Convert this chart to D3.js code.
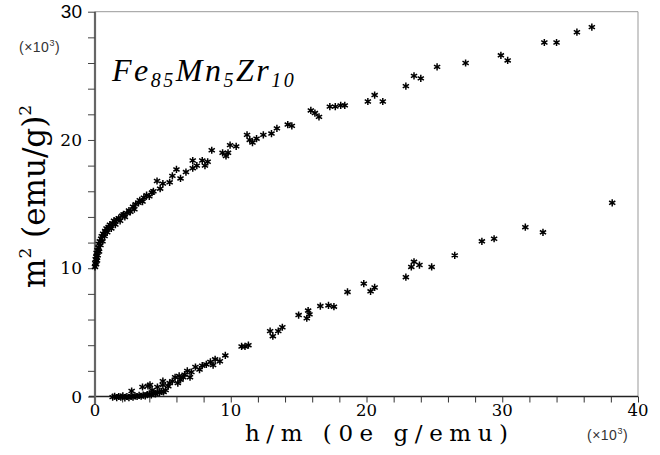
<!DOCTYPE html>
<html>
<head>
<meta charset="utf-8">
<script src="https://cdn.jsdelivr.net/npm/d3@7"></script>
<style>
  body { margin: 0; background: #fff; }
  svg { display: block; }
</style>
</head>
<body>
<div id="chart"></div>
<script>
// upper branch: [h/m (x10^3), m^2 (x10^3)]
const upperBranch = [
  [0.0, 10.1], [0.02, 10.4], [0.05, 10.7], [0.08, 10.3], [0.1, 10.9], [0.12, 11.2],
  [0.15, 10.6], [0.18, 11.4], [0.2, 11.0], [0.25, 11.6], [0.28, 11.9], [0.3, 11.3],
  [0.35, 12.1], [0.4, 11.8], [0.45, 12.3], [0.5, 12.5], [0.55, 12.1], [0.6, 12.7],
  [0.7, 12.5], [0.75, 12.9], [0.85, 13.1], [0.9, 12.8], [1.0, 13.2], [1.1, 13.4],
  [1.2, 13.1], [1.3, 13.5], [1.4, 13.7], [1.5, 13.4], [1.6, 13.8], [1.75, 13.9],
  [1.85, 13.7], [2.0, 14.1], [2.1, 14.2], [2.2, 14.0], [2.35, 14.3], [2.5, 14.5],
  [2.6, 14.4], [2.8, 14.8], [2.9, 14.6], [3.0, 15.0], [3.2, 15.1], [3.3, 15.3],
  [3.5, 15.2], [3.6, 15.5], [3.8, 15.7], [4.0, 15.6], [4.2, 15.9], [4.3, 16.0],
  [4.57, 16.8], [4.8, 16.2], [5.0, 16.6], [5.5, 16.7], [5.7, 17.2], [6.0, 17.7],
  [6.3, 17.0], [6.7, 17.5], [7.2, 17.8], [7.2, 18.4], [7.5, 18.0], [7.9, 18.4],
  [8.1, 18.0], [8.3, 18.3], [8.6, 19.2], [9.4, 19.0], [9.65, 18.75], [9.8, 19.0],
  [9.95, 19.6], [10.4, 19.5], [11.2, 20.4], [11.4, 20.0], [11.6, 19.8], [11.9, 20.1],
  [12.4, 20.4], [13.0, 20.5], [13.4, 20.9], [14.2, 21.2], [14.5, 21.1],
  [15.9, 22.3], [16.2, 22.1], [16.5, 21.8], [17.3, 22.6], [17.7, 22.6], [18.1, 22.7],
  [18.4, 22.7], [20.1, 23.0], [20.6, 23.5], [21.2, 23.0], [22.9, 24.2], [23.5, 25.0],
  [24.0, 24.8], [25.2, 25.7], [27.3, 26.0], [29.9, 26.6], [30.4, 26.2], [33.1, 27.6],
  [34.0, 27.6], [35.5, 28.4], [36.6, 28.8]
];

// lower branch
const lowerBranch = [
  [1.3, -0.05], [1.45, 0.02], [1.6, -0.08], [1.75, 0.0], [1.9, -0.05], [2.05, 0.05],
  [2.2, -0.1], [2.35, 0.0], [2.5, -0.08], [2.65, 0.03], [2.8, -0.05], [2.95, 0.05],
  [3.1, 0.0], [3.25, 0.08], [3.4, 0.02], [3.55, 0.1], [3.7, 0.05], [3.85, 0.15],
  [4.0, 0.2], [4.15, 0.12], [4.3, 0.25], [4.45, 0.2], [4.6, 0.35], [4.75, 0.3],
  [4.9, 0.4], [5.05, 0.35], [5.2, 0.5],
  [2.7, 0.43], [3.5, 0.74], [3.9, 0.82], [4.05, 0.9], [4.2, 0.5], [4.6, 0.74],
  [5.0, 1.2], [5.0, 0.9], [5.4, 0.8], [5.5, 1.05], [5.7, 1.2], [5.9, 1.5], [6.1, 1.05],
  [6.2, 1.6], [6.3, 1.3], [6.5, 1.5], [6.6, 1.7], [6.8, 2.0], [7.0, 1.5], [7.1, 1.9],
  [7.4, 2.3], [7.7, 2.1], [7.9, 2.4], [8.2, 2.5], [8.5, 2.7], [8.7, 2.45], [8.85, 2.9],
  [9.2, 2.75], [9.6, 3.2], [10.8, 3.9], [11.05, 3.9], [11.3, 4.0],
  [12.9, 5.1], [13.1, 4.7], [13.5, 5.1], [13.8, 5.4], [15.0, 6.35], [15.6, 6.1],
  [15.7, 6.7], [15.8, 6.4], [16.6, 7.05], [17.2, 7.1], [17.6, 7.0], [18.6, 8.15],
  [19.8, 8.8], [20.3, 8.2], [20.6, 8.5], [22.9, 9.3], [23.3, 10.1], [23.5, 10.5],
  [23.9, 10.25], [24.8, 10.1], [26.5, 11.0], [28.5, 12.1], [29.4, 12.3], [31.7, 13.2],
  [33.0, 12.8], [38.1, 15.1]
];

const xTickLabels = [0, 10, 20, 30, 40];
const yTickLabels = [0, 10, 20, 30];
const xMinorTicks = d3.range(0, 41, 2);
const yMinorTicks = d3.range(0, 31, 2);

const width = 660;
const height = 455;
const serif = '"DejaVu Serif", "Liberation Serif", serif';
const sans = '"Liberation Sans", Arial, sans-serif';

const svg = d3.select('#chart')
  .append('svg')
  .attr('width', width)
  .attr('height', height);

const xScale = d3.scaleLinear().domain([0, 40]).range([95, 638]);
const yScale = d3.scaleLinear().domain([0, 30]).range([396.5, 11.7]);

// frame (top and right are light)
svg.append('line')
  .attr('x1', xScale(0)).attr('x2', xScale(40))
  .attr('y1', yScale(30)).attr('y2', yScale(30))
  .style('stroke', '#999').style('stroke-width', 1);
svg.append('line')
  .attr('x1', xScale(40)).attr('x2', xScale(40))
  .attr('y1', yScale(30)).attr('y2', yScale(0))
  .style('stroke', '#999').style('stroke-width', 1);

// x axis
const xAxis = svg.append('g')
  .attr('class', 'axis x')
  .attr('transform', `translate(0,${yScale(0)})`)
  .call(d3.axisBottom(xScale).tickValues(xMinorTicks).tickSize(6).tickFormat(''));
xAxis.select('.domain').attr('d', `M${xScale(0) - 6},0H${xScale(40)}`)
  .style('stroke', '#222').style('stroke-width', 1.3);
xAxis.selectAll('.tick line').style('stroke', '#333');

// y axis
const yAxis = svg.append('g')
  .attr('class', 'axis y')
  .attr('transform', `translate(${xScale(0)},0)`)
  .call(d3.axisLeft(yScale).tickValues(yMinorTicks).tickSize(7).tickFormat(''));
yAxis.select('.domain').attr('d', `M0,${yScale(30)}V${yScale(0) + 8}`)
  .style('stroke', '#666').style('stroke-width', 2.2);
yAxis.selectAll('.tick line').style('stroke', '#444');

// tick labels
svg.append('g').selectAll('text')
  .data(xTickLabels)
  .join('text')
  .attr('x', d => xScale(d))
  .attr('y', 415.5)
  .attr('text-anchor', 'middle')
  .style('font-family', serif)
  .style('font-size', '16.5px')
  .text(d => d);

svg.append('g').selectAll('text')
  .data(yTickLabels)
  .join('text')
  .attr('x', 82)
  .attr('y', d => yScale(d) + 6)
  .attr('text-anchor', 'end')
  .style('font-family', d => d === 30 ? sans : serif)
  .style('font-size', d => d === 30 ? '19px' : '17px')
  .text(d => d);

// multipliers
const mult = (x, y) => {
  const t = svg.append('text')
    .attr('x', x).attr('y', y)
    .style('font-family', sans)
    .style('font-size', '14px')
    .style('letter-spacing', '0.5px')
    .style('fill', '#333');
  t.append('tspan').text('(×10');
  t.append('tspan').attr('dy', -6).style('font-size', '9px').text('3');
  t.append('tspan').attr('dy', 6).text(')');
};
mult(19, 52);
mult(587, 440);

// axis titles
svg.append('text')
  .attr('x', 245)
  .attr('y', 441)
  .attr('textLength', 263)
  .attr('lengthAdjust', 'spacing')
  .style('font-family', serif)
  .style('font-size', '23px')
  .text('h/m (0e g/emu)');

const yTitle = svg.append('text')
  .attr('transform', 'translate(45,288) rotate(-90)')
  .style('font-family', serif)
  .style('font-size', '31px');
yTitle.append('tspan').text('m');
yTitle.append('tspan').attr('dy', -14).style('font-size', '17px').text('2');
yTitle.append('tspan').attr('dy', 14).text(' (emu/g)');
yTitle.append('tspan').attr('dy', -14).style('font-size', '17px').text('2');

// compound label
const title = svg.append('text')
  .attr('x', 112)
  .attr('y', 81)
  .style('font-family', '"Liberation Serif", serif')
  .style('font-style', 'italic')
  .style('font-size', '32px')
  .style('letter-spacing', '2.5px');
[['Fe', '85'], ['Mn', '5'], ['Zr', '10']].forEach(([el, sub], i) => {
  title.append('tspan').attr('dy', i === 0 ? 0 : -6).text(el);
  title.append('tspan').attr('dy', 6).style('font-size', '20px').text(sub);
});

// data markers
const star = d3.symbol().type(d3.symbolAsterisk).size(36);
const points = upperBranch.concat(lowerBranch);

svg.append('g')
  .attr('class', 'points')
  .selectAll('path')
  .data(points)
  .join('path')
  .attr('transform', d => `translate(${xScale(d[0])},${yScale(d[1])})`)
  .attr('d', star)
  .style('fill', 'none')
  .style('stroke', '#000')
  .style('stroke-width', 1.5);
</script>
</body>
</html>
